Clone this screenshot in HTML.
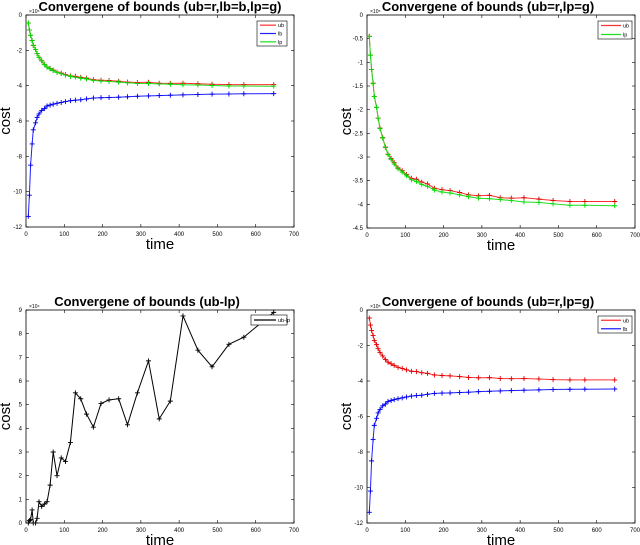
<!DOCTYPE html>
<html><head><meta charset="utf-8"><style>
html,body{margin:0;padding:0;background:#fff;}
svg{display:block;font-family:"Liberation Sans",sans-serif;}
</style></head><body>
<svg id="c" width="640" height="545" viewBox="0 0 640 545" xmlns="http://www.w3.org/2000/svg"></svg>
<script>
const times=[6,9,12,16,19,25,29,34,41,48,55,63,71,81,92,103,116,129,143,158,176,196,217,242,265,291,320,348,377,410,449,486,530,569,647];
const ubVals=[-0.45,-0.85,-1.15,-1.44,-1.72,-1.95,-2.18,-2.39,-2.59,-2.79,-2.94,-3.03,-3.12,-3.23,-3.29,-3.37,-3.45,-3.47,-3.53,-3.57,-3.66,-3.69,-3.71,-3.75,-3.80,-3.82,-3.81,-3.86,-3.87,-3.86,-3.89,-3.92,-3.94,-3.94,-3.94];
const lpVals=[-0.45,-0.85,-1.15,-1.45,-1.72,-1.95,-2.18,-2.4,-2.6,-2.8,-2.95,-3.05,-3.15,-3.25,-3.32,-3.4,-3.48,-3.52,-3.58,-3.62,-3.7,-3.74,-3.76,-3.8,-3.84,-3.87,-3.88,-3.9,-3.92,-3.95,-3.96,-3.99,-4.02,-4.02,-4.03];
const lbVals=[-11.4,-10.2,-8.5,-7.3,-6.5,-6.1,-5.8,-5.6,-5.4,-5.3,-5.15,-5.1,-5.05,-5.0,-4.95,-4.9,-4.85,-4.82,-4.8,-4.75,-4.7,-4.68,-4.67,-4.65,-4.63,-4.6,-4.58,-4.56,-4.54,-4.52,-4.5,-4.48,-4.47,-4.46,-4.45];
const diffVals=[0,0.1,0.15,0.55,0,0,0.2,0.9,0.7,0.8,0.9,1.6,3.0,2.0,2.75,2.6,3.4,5.5,5.25,4.6,4.05,5.05,5.2,5.25,4.15,5.5,6.85,4.4,5.15,8.75,7.3,6.6,7.55,7.85,8.9];
const xTicks=[0,100,200,300,400,500,600,700];
const yTicksA=[0,-2,-4,-6,-8,-10,-12];
const yTicksB=[0,-0.5,-1,-1.5,-2,-2.5,-3,-3.5,-4,-4.5];
const yTicksC=[0,1,2,3,4,5,6,7,8,9];

const NS="http://www.w3.org/2000/svg";
const svg=document.getElementById('c');
function el(tag,attrs,parent,text){const e=document.createElementNS(NS,tag);for(const k in attrs)e.setAttribute(k,attrs[k]);if(text!==undefined)e.textContent=text;(parent||svg).appendChild(e);return e;}

function panel(p){
  const g=el('g',{},svg);
  
  
  const sx=v=>p.x0+(v-0)/(700)*(p.x1-p.x0);
  const sy=v=>p.yTop+(p.ymax-v)/(p.ymax-p.ymin)*(p.yBot-p.yTop);
  const box=el('rect',{x:p.x0,y:p.yTop,width:p.x1-p.x0,height:p.yBot-p.yTop,fill:'#fff',stroke:'#000','stroke-width':0.8},g);
  
  
  xTicks.forEach(t=>{
    const x=sx(t);
    el('line',{x1:x,x2:x,y1:p.yBot,y2:p.yBot-3,stroke:'#000','stroke-width':0.6},g);
    el('line',{x1:x,x2:x,y1:p.yTop,y2:p.yTop+3,stroke:'#000','stroke-width':0.6},g);
    const tl=el('text',{x:x,y:p.yBot+9,'font-size':6,'text-anchor':'middle'},g,String(t));
    
    
  });
  p.yTicks.forEach(t=>{
    const y=sy(t);
    el('line',{x1:p.x0,x2:p.x0+3,y1:y,y2:y,stroke:'#000','stroke-width':0.6},g);
    el('line',{x1:p.x1,x2:p.x1-3,y1:y,y2:y,stroke:'#000','stroke-width':0.6},g);
    const tl=el('text',{x:p.x0-4,y:y+2,'font-size':6,'text-anchor':'end'},g,String(t));
    
    
  });
  const ex=el('text',{x:p.x0+3,y:p.yTop-2,'font-size':5},g,p.exp);
  
  
  const tt=el('text',{x:p.tx,y:p.yTop-4,'font-size':13,'font-weight':'bold','text-anchor':'middle'},g,p.title);
  
  
  const xl=el('text',{x:(p.x0+p.x1)/2,y:p.yBot+22,'font-size':15,'text-anchor':'middle'},g,'time');
  
  
  const ymid=(p.yTop+p.yBot)/2;
  const yl=el('text',{x:p.x0-16,y:ymid,'font-size':15,'text-anchor':'middle',transform:`rotate(-90 ${p.x0-16} ${ymid})`},g,'cost');
  
  
  p.series.forEach(s=>{
    const pts=times.map((t,i)=>sx(t).toFixed(1)+','+sy(s.vals[i]).toFixed(1)).join(' ');
    const pl=el('polyline',{points:pts,fill:'none',stroke:s.color,'stroke-width':1},g);
    
    
    times.forEach((t,i)=>{
      const x=sx(t),y=sy(s.vals[i]);
      const m=el('path',{d:`M${x-2.5},${y}H${x+2.5}M${x},${y-2.5}V${y+2.5}`,stroke:s.mark,'stroke-width':0.9},g);
      
      
    });
  });
  const L=p.legend;
  const lg=el('g',{},g);
  
  
  el('rect',{x:L.x,y:L.y,width:L.w,height:L.h,fill:'#fff',stroke:'#000','stroke-width':0.6},lg);
  const step=L.h/p.series.length;
  p.series.forEach((s,i)=>{
    const y=L.y+step*(i+0.5);
    el('line',{x1:L.x+3,x2:L.x+L.w-11,y1:y,y2:y,stroke:s.color,'stroke-width':1.2},lg);
    const t=el('text',{x:L.x+L.w-9,y:y+2,'font-size':5.5},lg,s.label);
    
    
  });
}
const ub={label:'ub',vals:ubVals,color:'#ff3030',mark:'#e00000'};
const lp={label:'lp',vals:lpVals,color:'#20e020',mark:'#00dd00'};
const lb={label:'lb',vals:lbVals,color:'#2020ff',mark:'#0000ee'};
panel({name:'panel-top-left',x0:26,x1:294,yTop:15,yBot:227,ymax:0,ymin:-12,yTicks:yTicksA,exp:'×10⁵',title:'Convergene of bounds (ub=r,lb=b,lp=g)',tx:160,series:[ub,lb,lp],legend:{x:257,y:21,w:30,h:25}});
panel({name:'panel-top-right',x0:367,x1:635,yTop:15,yBot:228,ymax:0,ymin:-4.5,yTicks:yTicksB,exp:'×10⁵',title:'Convergene of bounds (ub=r,lp=g)',tx:488,series:[ub,lp],legend:{x:598,y:21,w:34,h:18}});
panel({name:'panel-bottom-left',x0:26,x1:294,yTop:310,yBot:523,ymax:9,ymin:0,yTicks:yTicksC,exp:'×10⁴',title:'Convergene of bounds (ub-lp)',tx:147,series:[{label:'ub-lp',vals:diffVals,color:'#000',mark:'#000'}],legend:{x:251,y:315,w:36,h:10}});
panel({name:'panel-bottom-right',x0:367,x1:635,yTop:310,yBot:523,ymax:0,ymin:-12,yTicks:yTicksA,exp:'×10⁵',title:'Convergene of bounds (ub=r,lp=g)',tx:488,series:[ub,lb],legend:{x:598,y:316,w:34,h:17}});
</script>
</body></html>
